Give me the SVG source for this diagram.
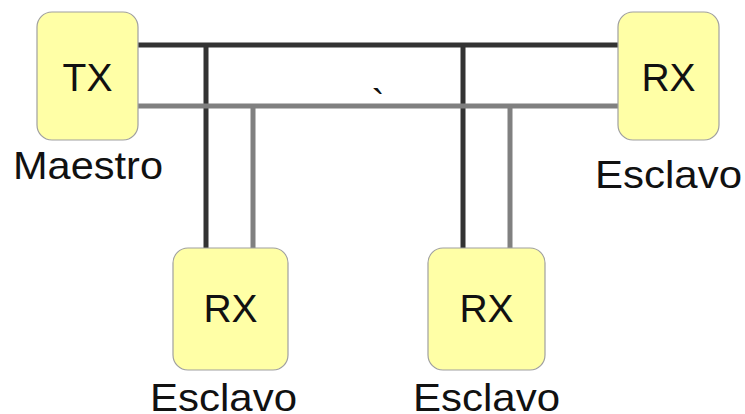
<svg xmlns="http://www.w3.org/2000/svg" width="745" height="414" viewBox="0 0 745 414">
<style>
.box{fill:#ffffa6;stroke:#a0a0a0;stroke-width:1.2}
.lbl{font-family:"Liberation Sans",Arial,sans-serif;font-size:39px;fill:#111;text-anchor:middle}
.dark{stroke:#333;stroke-width:5;fill:none}
.gray{stroke:#808080;stroke-width:5;fill:none}
</style>
<rect width="745" height="414" fill="#fff"/>
<g id="connectors">
<path class="dark" d="M138 45H618M206 45V248M463 45V248"/>
<path class="gray" d="M138 106H618M253 106V248M510 106V248"/>
</g>
<g id="tx">
<rect class="box" x="37" y="12" width="101" height="128" rx="15"/>
<text class="lbl" x="87.5" y="91">TX</text>
<text class="lbl" x="88" y="179" textLength="150" lengthAdjust="spacingAndGlyphs">Maestro</text>
</g>
<g id="rx1">
<rect class="box" x="618" y="12" width="101" height="128" rx="15"/>
<text class="lbl" x="668.5" y="91">RX</text>
<text class="lbl" x="668.5" y="188" textLength="147" lengthAdjust="spacingAndGlyphs">Esclavo</text>
</g>
<g id="rx2">
<rect class="box" x="173" y="248" width="115" height="122" rx="15"/>
<text class="lbl" x="230.5" y="322">RX</text>
<text class="lbl" x="223.5" y="411" textLength="147" lengthAdjust="spacingAndGlyphs">Esclavo</text>
</g>
<g id="rx3">
<rect class="box" x="428" y="248" width="117" height="122" rx="15"/>
<text class="lbl" x="486.5" y="322">RX</text>
<text class="lbl" x="486.5" y="411" textLength="147" lengthAdjust="spacingAndGlyphs">Esclavo</text>
</g>
<text class="lbl" x="378" y="117" font-size="30">`</text>
</svg>
